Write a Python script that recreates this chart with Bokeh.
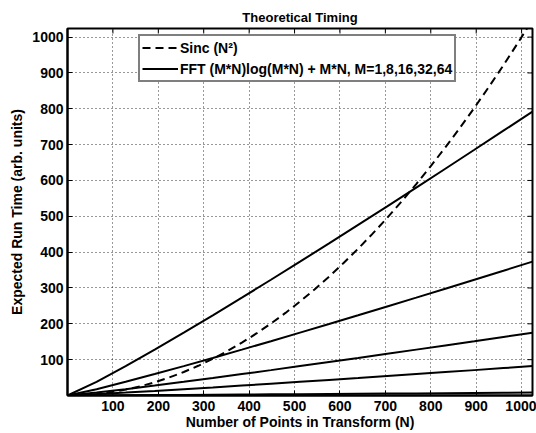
from bokeh.plotting import figure
from bokeh.models import Legend, LegendItem, FixedTicker, Range1d
from bokeh.embed import file_html
from bokeh.resources import INLINE

# N values for the Sinc curve and its expected run time (arb. units)
n_sinc = [0, 32, 64, 96, 128, 160, 192, 224, 256, 288, 320, 352, 384, 416, 448, 480, 512,
          544, 576, 608, 640, 672, 704, 736, 768, 800, 832, 864, 896, 928, 960, 992, 1024]
sinc = [0.0, 1.0, 4.1, 9.2, 16.4, 25.6, 36.9, 50.2, 65.5, 82.9, 102.4, 123.9, 147.5, 173.1,
        200.7, 230.4, 262.1, 295.9, 331.8, 369.7, 409.6, 451.6, 495.6, 541.7, 589.8, 640.0,
        692.2, 746.5, 802.8, 861.2, 921.6, 984.1, 1048.6]

# N values for the FFT curves
n_fft = [0, 64, 128, 192, 256, 320, 384, 448, 512, 576, 640, 704, 768, 832, 896, 960, 1024]
fft_m1 = [0.0, 0.33, 0.75, 1.20, 1.68, 2.17, 2.67, 3.18, 3.71, 4.24, 4.78, 5.32, 5.87, 6.43,
          6.99, 7.55, 8.12]
fft_m8 = [0.0, 3.71, 8.12, 12.81, 17.66, 22.65, 27.74, 32.92, 38.17, 43.48, 48.85, 54.27,
          59.74, 65.25, 70.80, 76.39, 82.01]
fft_m16 = [0.0, 8.12, 17.66, 27.74, 38.17, 48.85, 59.74, 70.80, 82.01, 93.35, 104.80, 116.35,
           128.00, 139.73, 151.54, 163.42, 175.38]
fft_m32 = [0.0, 17.66, 38.17, 59.74, 82.01, 104.80, 128.00, 151.54, 175.38, 199.47, 223.79,
           248.31, 273.03, 297.91, 322.95, 348.14, 373.46]
fft_m64 = [0.0, 38.17, 82.01, 128.00, 175.38, 223.79, 273.03, 322.95, 373.46, 424.49, 475.97,
           527.86, 580.13, 632.74, 685.66, 738.87, 792.36]

x_ticks = [100, 200, 300, 400, 500, 600, 700, 800, 900, 1000]
y_ticks = [100, 200, 300, 400, 500, 600, 700, 800, 900, 1000]

X_MIN, X_MAX = 0, 1024
Y_MIN, Y_MAX = 0, 1024

FONT = "Liberation Sans"

p = figure(width=536, height=433, output_backend="svg", toolbar_location=None,
           x_range=Range1d(X_MIN, X_MAX), y_range=Range1d(Y_MIN, Y_MAX),
           min_border_left=67, min_border_top=28, min_border_right=4, min_border_bottom=38,
           title="Theoretical Timing")

p.title.text_font = FONT
p.title.text_font_style = "bold"
p.title.text_font_size = "13px"
p.title.text_color = "black"
p.title.align = "center"
p.title.vertical_align = "middle"
p.title.standoff = 6

p.background_fill_color = "white"
p.border_fill_color = "white"
p.outline_line_color = "black"
p.outline_line_width = 2

for ax in (p.xaxis[0], p.yaxis[0]):
    ax.major_label_text_font = FONT
    ax.major_label_text_font_style = "bold"
    ax.major_label_text_font_size = "14px"
    ax.major_label_text_color = "black"
    ax.axis_label_text_font = FONT
    ax.axis_label_text_font_style = "bold"
    ax.axis_label_text_font_size = "14px"
    ax.axis_label_text_color = "black"
    ax.major_tick_in = 5
    ax.major_tick_out = 0
    ax.major_tick_line_color = "black"
    ax.minor_tick_line_color = None
    ax.axis_line_width = 2
    ax.axis_line_color = "black"
    ax.major_tick_line_width = 1

p.xaxis[0].ticker = FixedTicker(ticks=x_ticks)
p.yaxis[0].ticker = FixedTicker(ticks=y_ticks)
p.xaxis[0].axis_label = "Number of Points in Transform (N)"
p.yaxis[0].axis_label = "Expected Run Time (arb. units)"
p.xaxis[0].major_label_standoff = 5
p.yaxis[0].major_label_standoff = 4
p.xaxis[0].axis_label_standoff = 0
p.yaxis[0].axis_label_standoff = 4

p.xgrid.ticker = FixedTicker(ticks=x_ticks)
p.ygrid.ticker = FixedTicker(ticks=y_ticks)
for g in (p.xgrid[0], p.ygrid[0]):
    g.grid_line_color = "black"
    g.grid_line_dash = "1 3"
    g.grid_line_width = 1
    g.grid_line_alpha = 0.8

# inward ticks on the top and right sides of the box (length ~5px)
tx = (X_MAX - X_MIN) / 465 * 5
ty = (Y_MAX - Y_MIN) / 367 * 5
p.segment(x0=x_ticks, y0=[Y_MAX] * len(x_ticks), x1=x_ticks, y1=[Y_MAX - ty] * len(x_ticks),
          line_color="black", line_width=1)
p.segment(x0=[X_MAX] * len(y_ticks), y0=y_ticks, x1=[X_MAX - tx] * len(y_ticks), y1=y_ticks,
          line_color="black", line_width=1)

r_sinc = p.line(n_sinc, sinc, line_color="black", line_width=2, line_dash="8 5")
r_fft = None
for ys in (fft_m1, fft_m8, fft_m16, fft_m32, fft_m64):
    r = p.line(n_fft, ys, line_color="black", line_width=2)
    if r_fft is None:
        r_fft = r

legend = Legend(items=[LegendItem(label="Sinc (N²)", renderers=[r_sinc]),
                       LegendItem(label="FFT (M*N)log(M*N) + M*N, M=1,8,16,32,64",
                                  renderers=[r_fft])],
                location=(71, 313))
legend.border_line_color = "black"
legend.border_line_width = 2
legend.background_fill_color = "white"
legend.background_fill_alpha = 1
legend.label_text_font = FONT
legend.label_text_font_style = "bold"
legend.label_text_font_size = "14px"
legend.label_text_color = "black"
legend.glyph_width = 36
legend.glyph_height = 19
legend.label_height = 19
legend.label_standoff = 2
legend.spacing = 2
legend.padding = 2
legend.margin = 0
p.add_layout(legend, "center")

open("out.html", "w").write(file_html(p, INLINE))
